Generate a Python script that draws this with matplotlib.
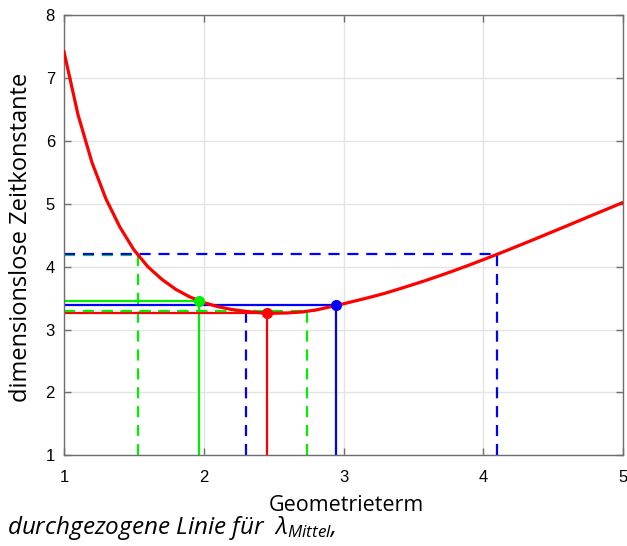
import numpy as np
import matplotlib
matplotlib.use("Agg")
import matplotlib.pyplot as plt

# dimensionless time constant over the geometry term
geo = [1.0, 1.1, 1.2, 1.3, 1.4, 1.5, 1.6, 1.7, 1.8, 1.9, 2.0,
       2.1, 2.2, 2.3, 2.4, 2.5, 2.6, 2.7, 2.8, 2.9, 3.0,
       3.1, 3.2, 3.3, 3.4, 3.5, 3.6, 3.7, 3.8, 3.9, 4.0,
       4.1, 4.2, 4.3, 4.4, 4.5, 4.6, 4.7, 4.8, 4.9, 5.0]
tau = [7.42, 6.42, 5.66, 5.08, 4.63, 4.27, 4.00, 3.80, 3.64, 3.52, 3.43,
       3.365, 3.32, 3.29, 3.268, 3.26, 3.265, 3.28, 3.31, 3.36, 3.41,
       3.465, 3.52, 3.58, 3.648, 3.718, 3.79, 3.866, 3.945, 4.027, 4.112,
       4.198, 4.287, 4.377, 4.468, 4.56, 4.652, 4.745, 4.838, 4.93, 5.022]

# marked operating points
mark_x = [1.53, 1.966, 2.30, 2.45, 2.737, 2.946, 4.096]
mark_y = [4.185, 3.455, 3.275, 3.259, 3.30, 3.387, 4.20]
mark_c = ["#00ee00", "#00ee00", "#0000ff", "#ff0000", "#00ee00", "#0000ff", "#0000ff"]
mark_dashed = [True, False, True, False, True, False, True]
mark_dot = [False, True, False, True, False, True, False]

x_ticks = [1, 2, 3, 4, 5]
y_ticks = [1, 2, 3, 4, 5, 6, 7, 8]

plt.rcParams["font.family"] = ["Liberation Sans", "DejaVu Sans"]
plt.rcParams["mathtext.fontset"] = "custom"
plt.rcParams["mathtext.it"] = "Open Sans:italic"
plt.rcParams["mathtext.rm"] = "Open Sans:italic"

fig = plt.figure(figsize=(6.27, 5.46), dpi=100)
ax = fig.add_axes([64 / 627, 1 - 455.3 / 546, 559 / 627, 440 / 546])

ax.set_xlim(1, 5)
ax.set_ylim(1, 8)
ax.set_xticks(x_ticks)
ax.set_yticks(y_ticks)
ax.grid(True, color="#e4e4e4", linewidth=1.0)
ax.set_axisbelow(True)
for s in ax.spines.values():
    s.set_color("#6e6e6e")
    s.set_linewidth(1.0)
ax.tick_params(direction="in", length=5, width=1, color="#6e6e6e",
               top=True, right=True, labelsize=12)
ax.tick_params(axis="x", pad=10.5)
ax.tick_params(axis="y", pad=6.5)

# drop lines from each marked point to the axes
for x, y, c, dashed in zip(mark_x, mark_y, mark_c, mark_dashed):
    kw = dict(color=c, linewidth=1.6)
    if dashed:
        kw["dashes"] = (5, 3.5)
    ax.plot([1, x], [y, y], **kw)
    ax.plot([x, x], [1, y], **kw)

ax.plot(geo, tau, color="#ff0000", linewidth=2.3, zorder=5)

for x, y, c, d in zip(mark_x, mark_y, mark_c, mark_dot):
    if d:
        ax.plot(x, y, "o", color=c, markersize=7, zorder=6)

fig.text(346 / 627, 1 - 511 / 546, "Geometrieterm", family="Open Sans",
         fontsize=15.5, ha="center", va="baseline")
fig.text(21 / 627, 1 - 237 / 546, "dimensionslose Zeitkonstante",
         family="Open Sans", fontsize=17, rotation=90, ha="center", va="center")
fig.text(7 / 627, 1 - 534 / 546,
         r"durchgezogene Linie für  $\lambda_{Mittel}$,",
         family="Open Sans", style="italic", fontsize=17.5, ha="left", va="baseline")

fig.savefig("out.png", dpi=100)
